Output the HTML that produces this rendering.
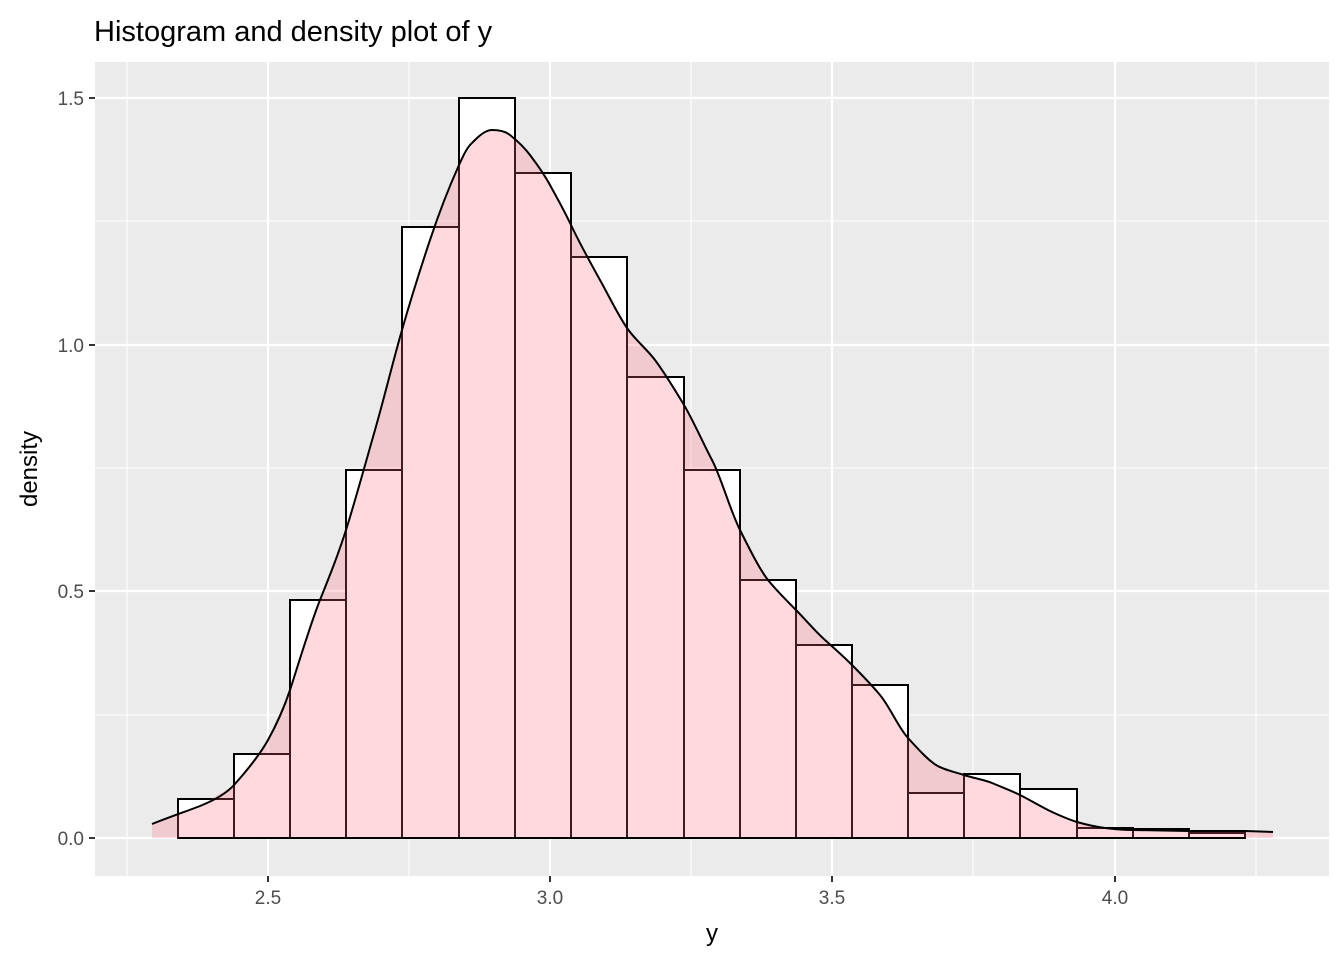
<!DOCTYPE html>
<html><head><meta charset="utf-8"><style>
body{margin:0;background:#fff;}
svg{display:block;font-family:"Liberation Sans",Arial,sans-serif;}
</style></head><body>
<svg width="1344" height="960" viewBox="0 0 1344 960" xmlns="http://www.w3.org/2000/svg">
<rect width="1344" height="960" fill="#fff"/>
<text x="94" y="41" font-size="29" fill="#000">Histogram and density plot of y</text>
<rect x="95" y="62" width="1234" height="814" fill="#ebebeb"/>
<g stroke="#fff" stroke-width="1.1">
<line x1="95" x2="1329" y1="715" y2="715"/><line x1="95" x2="1329" y1="468" y2="468"/><line x1="95" x2="1329" y1="221" y2="221"/>
<line x1="127" x2="127" y1="62" y2="876"/><line x1="409" x2="409" y1="62" y2="876"/><line x1="691" x2="691" y1="62" y2="876"/><line x1="973" x2="973" y1="62" y2="876"/><line x1="1256" x2="1256" y1="62" y2="876"/>
</g>
<g stroke="#fff" stroke-width="2.2">
<line x1="95" x2="1329" y1="838" y2="838"/><line x1="95" x2="1329" y1="591" y2="591"/><line x1="95" x2="1329" y1="345" y2="345"/><line x1="95" x2="1329" y1="98" y2="98"/>
<line x1="268" x2="268" y1="62" y2="876"/><line x1="550" x2="550" y1="62" y2="876"/><line x1="832" x2="832" y1="62" y2="876"/><line x1="1115" x2="1115" y1="62" y2="876"/>
</g>
<g fill="#fff" stroke="#000" stroke-width="2">
<rect x="178" y="799" width="56" height="39"/>
<rect x="234" y="754" width="56" height="84"/>
<rect x="290" y="600" width="56" height="238"/>
<rect x="346" y="470" width="56" height="368"/>
<rect x="402" y="227" width="57" height="611"/>
<rect x="459" y="98" width="56" height="740"/>
<rect x="515" y="173" width="56" height="665"/>
<rect x="571" y="257" width="56" height="581"/>
<rect x="627" y="377" width="57" height="461"/>
<rect x="684" y="470" width="56" height="368"/>
<rect x="740" y="580" width="56" height="258"/>
<rect x="796" y="645" width="56" height="193"/>
<rect x="852" y="685" width="56" height="153"/>
<rect x="908" y="793" width="56" height="45"/>
<rect x="964" y="774" width="56" height="64"/>
<rect x="1020" y="789" width="57" height="49"/>
<rect x="1077" y="828" width="56" height="10"/>
<rect x="1133" y="829" width="56" height="9"/>
<rect x="1189" y="833" width="56" height="5"/>
</g>
<path d="M152,824 L200,806 L234,785 L268,740 L290,690 L320,600 L346,530 L375,430 L402,330 L430,240 L459,165 L475,140 L492,130 L510,135 L530,155 L550,185 L571,225 L600,280 L627,328 L655,360 L684,405 L712,460 L740,530 L768,580 L796,610 L825,640 L852,665 L880,695 L908,738 L936,765 L964,775 L992,783 L1020,795 L1048,810 L1077,822 L1105,828 L1133,830 L1189,831 L1245,831 L1273,832 L1273,838 L152,838 Z" fill="rgba(255,105,120,0.25)" stroke="none"/>
<path d="M152,824 C175,815 190,810 200,806 S225,795 234,785 S258,758 268,740 S285,705 290,690 S310,625 320,600 S338,555 346,530 S365,465 375,430 S392,365 402,330 S420,270 430,240 S450,185 459,165 S470,145 475,140 S486,130 492,130 S505,131 510,135 S524,147 530,155 S543,172 550,185 S563,208 571,225 S590,262 600,280 S618,315 627,328 S646,348 655,360 S675,390 684,405 S703,443 712,460 S730,510 740,530 S760,570 768,580 S788,602 796,610 S816,632 825,640 S845,658 852,665 S870,683 880,695 S898,727 908,738 S928,760 936,765 S955,772 964,775 S985,780 992,783 S1012,791 1020,795 S1040,806 1048,810 S1070,820 1077,822 S1097,827 1105,828 S1125,830 1133,830 L1189,831 L1245,831 L1273,832" fill="none" stroke="#000" stroke-width="2"/>
<line x1="178" x2="1245" y1="838" y2="838" stroke="#000" stroke-width="2"/>
<g stroke="#333" stroke-width="2">
<line x1="89" x2="95" y1="838" y2="838"/><line x1="89" x2="95" y1="591" y2="591"/><line x1="89" x2="95" y1="345" y2="345"/><line x1="89" x2="95" y1="98" y2="98"/>
<line x1="268" x2="268" y1="876" y2="882"/><line x1="550" x2="550" y1="876" y2="882"/><line x1="832" x2="832" y1="876" y2="882"/><line x1="1115" x2="1115" y1="876" y2="882"/>
</g>
<g font-size="19" fill="#4d4d4d" text-anchor="end">
<text x="84" y="845">0.0</text><text x="84" y="598">0.5</text><text x="84" y="352">1.0</text><text x="84" y="105">1.5</text>
</g>
<g font-size="19" fill="#4d4d4d" text-anchor="middle">
<text x="268" y="904">2.5</text><text x="550" y="904">3.0</text><text x="832" y="904">3.5</text><text x="1115" y="904">4.0</text>
</g>
<text x="712" y="941" font-size="24" text-anchor="middle" fill="#000">y</text>
<text transform="translate(37,469) rotate(-90)" font-size="24" text-anchor="middle" fill="#000">density</text>
</svg>
</body></html>
